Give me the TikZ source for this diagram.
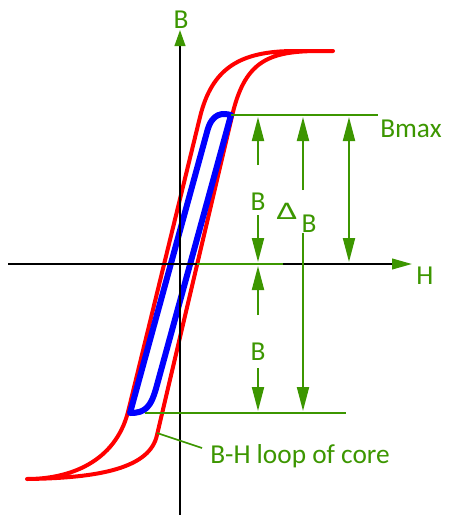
\documentclass[tikz,border=0pt]{standalone}
\usepackage{fontspec}
\setmainfont{Carlito}
\usetikzlibrary{arrows.meta}
\definecolor{grn}{RGB}{60,150,0}
\begin{document}
\begin{tikzpicture}[x=0.75pt,y=-0.75pt,
 axis/.style={black,line width=1.5pt},
 gline/.style={grn,line width=1.5pt},
 garrow/.style={grn,line width=1.5pt,-{Triangle[length=18pt,width=9pt]}},
 gdarrow/.style={grn,line width=1.5pt,{Triangle[length=18pt,width=9pt]}-{Triangle[length=18pt,width=9pt]}},
 lbl/.style={text=grn,font=\fontsize{20.5}{24}\selectfont,inner sep=0pt},
 redloop/.style={red,line width=3pt,line join=round,line cap=round},
 blueloop/.style={blue,line width=4.5pt,line join=round},
]
\useasboundingbox (0,0) rectangle (455,515);
% coordinates
\coordinate (yb) at (180,515); \coordinate (yt) at (180,30);
\coordinate (xl) at (8,264);   \coordinate (xr) at (412,264);
\coordinate (hg1) at (197,264); \coordinate (hg2) at (283,264);
\coordinate (bm1) at (231,115); \coordinate (bm2) at (378,115);
\coordinate (bb1) at (145,413); \coordinate (bb2) at (346,413);
\coordinate (a1s) at (258,165); \coordinate (a1t) at (258,117);
\coordinate (a2s) at (258,215); \coordinate (a2t) at (258,262);
\coordinate (a3s) at (258,315); \coordinate (a3t) at (258,266);
\coordinate (a4s) at (258,368); \coordinate (a4t) at (258,411);
\coordinate (d1s) at (303,190); \coordinate (d1t) at (303,117);
\coordinate (d2s) at (303,233); \coordinate (d2t) at (303,411);
\coordinate (m1) at (349,117);  \coordinate (m2) at (349,262);
\coordinate (ld1) at (157,433); \coordinate (ld2) at (202,448);
% loops
\draw[redloop] (333,51) -- (295,51) .. controls (240,51) and (212,68) .. (200,117)
  -- (128,412) .. controls (115,462) and (70,479) .. (27,479)
  .. controls (100,478) and (150,468) .. (157,435)
  -- (233,112) .. controls (246,60) and (270,51) .. (320,51);
\draw[blueloop] (130,413) -- (207,132) .. controls (212,112) and (223,113) .. (231,115)
  -- (157,385) .. controls (151,408) and (145,413) .. cycle;
% axes
\draw[axis,-{Triangle[length=12pt,width=8pt,color=grn]}] (yb) -- (yt);
\draw[axis,-{Triangle[length=15pt,width=8pt,color=grn]}] (xl) -- (xr);
\draw[gline] (hg1) -- (hg2);
% horizontal green lines
\draw[gline] (bm1) -- (bm2);
\draw[gline] (bb1) -- (bb2);
% arrows
\draw[garrow] (a1s) -- (a1t);
\draw[garrow] (a2s) -- (a2t);
\draw[garrow] (a3s) -- (a3t);
\draw[garrow] (a4s) -- (a4t);
\draw[garrow] (d1s) -- (d1t);
\draw[garrow] (d2s) -- (d2t);
\draw[gdarrow] (m1) -- (m2);
\draw[gline,line width=1.2pt] (ld1) -- (ld2);
% labels
\node[lbl] (ylab) at (181,20) {B};
\node[lbl] (xlab) at (425,276) {H};
\node[lbl,anchor=base west] (bmax) at (380,137) {Bmax};
\node[lbl] (b1) at (258,202) {B};
\node[lbl] (b2) at (258,352) {B};
\node[lbl,anchor=base,font=\fontsize{19}{22}\selectfont] (dlt) at (287,219) {\scalebox{1.45}[1]{Δ}};
\node[lbl,anchor=base] (db) at (309,232) {B};
\node[lbl,anchor=base west] (loop) at (210,463) {B-H loop of core};
\end{tikzpicture}
\end{document}
